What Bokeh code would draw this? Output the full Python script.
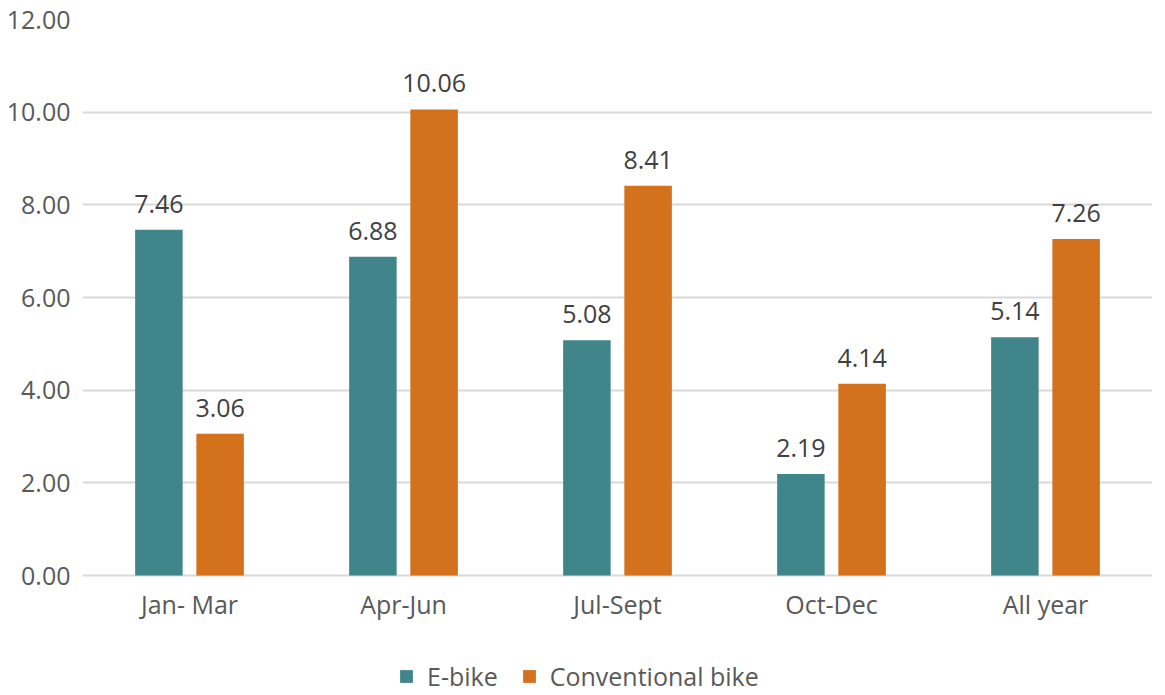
from bokeh.plotting import figure
from bokeh.models import ColumnDataSource, FactorRange, Legend, LegendItem, NumeralTickFormatter, Range1d
from bokeh.transform import dodge
from bokeh.embed import file_html
from bokeh.resources import INLINE
from bokeh.core.properties import value

categories = ["Jan- Mar", "Apr-Jun", "Jul-Sept", "Oct-Dec", "All year"]
ebike = [7.46, 6.88, 5.08, 2.19, 5.14]
conventional = [3.06, 10.06, 8.41, 4.14, 7.26]
series_names = ["E-bike", "Conventional bike"]
y_ticks = [0, 2, 4, 6, 8, 10, 12]

TEAL = "#3F858A"
ORANGE = "#D4711C"
FONT = "Open Sans"
FS = "25px"

src = ColumnDataSource(dict(
    cat=categories,
    ebike=ebike,
    conv=conventional,
    base=[0] * len(categories),
    ebike_lbl=[f"{v:.2f}" for v in ebike],
    conv_lbl=[f"{v:.2f}" for v in conventional],
))

# frame extends below zero to hold category labels and legend
Y_TOP = 12
Y_BOTTOM = -118 / 556 * 12
p = figure(frame_width=1070, frame_height=674, x_range=FactorRange(*categories, range_padding=0),
           y_range=Range1d(Y_BOTTOM, Y_TOP), output_backend="svg", toolbar_location=None)
p.min_border_top = 19
p.min_border_left = 82
p.min_border_right = 0
p.min_border_bottom = 0
p.outline_line_color = None
p.background_fill_color = "white"

off = 0.143
w = 0.222
r1 = p.vbar(x=dodge("cat", -off, range=p.x_range), top="ebike", width=w, source=src,
            fill_color=TEAL, line_color=None)
r2 = p.vbar(x=dodge("cat", off, range=p.x_range), top="conv", width=w, source=src,
            fill_color=ORANGE, line_color=None)

p.text(x=dodge("cat", -off, range=p.x_range), y="ebike", text="ebike_lbl", source=src,
       text_align="center", text_baseline="bottom", y_offset=-17,
       text_font=value(FONT), text_font_size=FS, text_color="#404040")
p.text(x=dodge("cat", off, range=p.x_range), y="conv", text="conv_lbl", source=src,
       text_align="center", text_baseline="bottom", y_offset=-17,
       text_font=value(FONT), text_font_size=FS, text_color="#404040")

# category labels under the zero line
p.text(x="cat", y="base", text="cat", source=src,
       text_align="center", text_baseline="middle", y_offset=28,
       text_font=value(FONT), text_font_size=FS, text_color="#595959")

p.xaxis.visible = False
p.yaxis.ticker = y_ticks
p.yaxis.formatter = NumeralTickFormatter(format="0.00")
ya = p.yaxis[0]
ya.axis_line_color = None
ya.major_tick_line_color = None
ya.minor_tick_line_color = None
ya.major_label_text_font = FONT
ya.major_label_text_font_size = FS
ya.major_label_text_color = "#595959"
ya.major_label_standoff = 6

p.xgrid.grid_line_color = None
p.ygrid.grid_line_color = "#D9D9D9"
p.ygrid.grid_line_width = 2

legend = Legend(items=[LegendItem(label=series_names[0], renderers=[r1]),
                       LegendItem(label=series_names[1], renderers=[r2])],
                orientation="horizontal", location=(316, 0))
legend.label_text_font = FONT
legend.label_text_font_size = FS
legend.label_text_color = "#595959"
legend.glyph_width = 16
legend.glyph_height = 16
legend.border_line_color = None
legend.background_fill_alpha = 0
legend.spacing = 23
legend.label_standoff = 13
legend.margin = 0
legend.padding = 0
p.add_layout(legend)

open("out.html", "w").write(file_html(p, INLINE))
